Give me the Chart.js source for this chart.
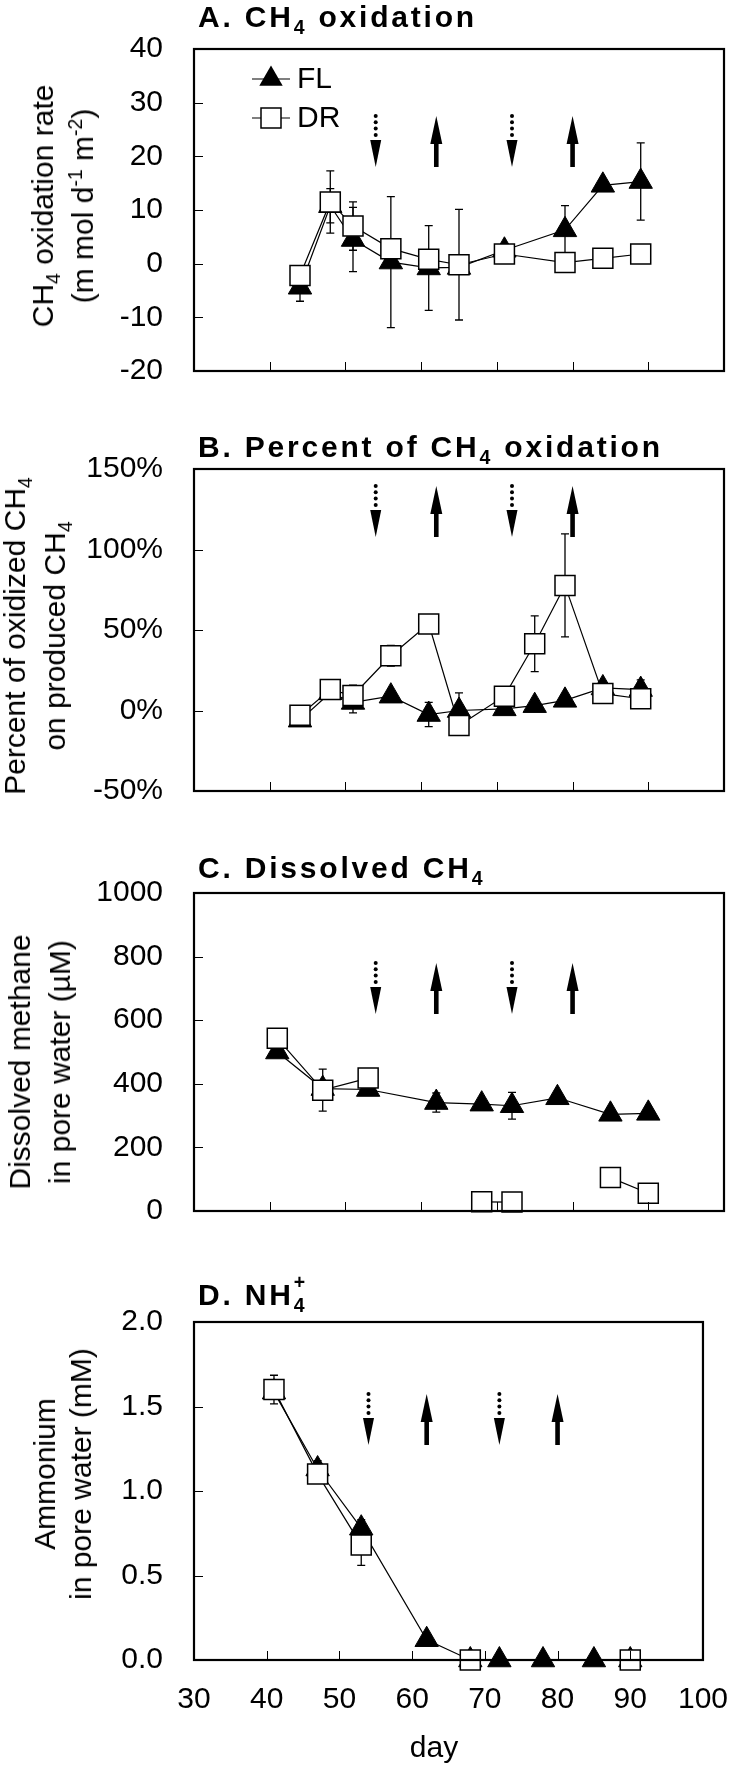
<!DOCTYPE html>
<html>
<head>
<meta charset="utf-8">
<script src="https://cdn.jsdelivr.net/npm/chart.js@4.4.1/dist/chart.umd.min.js"></script>
<style>
  body { margin: 0; background: #fff; }
  #wrap { position: relative; width: 750px; height: 1766px; overflow: hidden;
          font-family: "Liberation Sans", Arial, sans-serif; color: #000; }
  canvas { position: absolute; left: 0; }
  .ttl { position: absolute; left: 198px; font-weight: bold; font-size: 30px; line-height: 30px;
         letter-spacing: 2.8px; white-space: nowrap; }
  .yt { position: absolute; font-size: 30px; line-height: 40px; text-align: center; white-space: nowrap;
        transform: translate(-50%, -50%) rotate(-90deg); }
  sub, sup { font-size: 65%; line-height: 0; }
  .st { position: relative; display: inline-block; }
  .st sup { position: absolute; left: 0; top: 0.1em; }
  #day { position: absolute; left: 434px; top: 1747px; font-size: 30px; line-height: 30px;
         transform: translate(-50%, -50%); }
</style>
</head>
<body>
<div id="wrap">
  <canvas id="cA" width="750" height="420" style="top:0px"></canvas>
  <canvas id="cB" width="750" height="420" style="top:420px"></canvas>
  <canvas id="cC" width="750" height="420" style="top:840px"></canvas>
  <canvas id="cD" width="750" height="506" style="top:1260px"></canvas>

  <div class="ttl" style="top:2px">A. CH<sub>4</sub> oxidation</div>
  <div class="ttl" style="top:432px">B. Percent of CH<sub>4</sub> oxidation</div>
  <div class="ttl" style="top:853px">C. Dissolved CH<sub>4</sub></div>
  <div class="ttl" style="top:1280px">D. NH<span class="st"><sub>4</sub><sup>+</sup></span></div>

  <div class="yt" style="left:63px;top:206px">CH<sub>4</sub> oxidation rate<br>(m mol d<sup>-1</sup> m<sup>-2</sup>)</div>
  <div class="yt" style="left:35px;top:636px">Percent of oxidized CH<sub>4</sub><br>on produced CH<sub>4</sub></div>
  <div class="yt" style="left:40px;top:1062px">Dissolved methane<br>in pore water (µM)</div>
  <div class="yt" style="left:63px;top:1474px;line-height:36px">Ammonium<br>in pore water (mM)</div>
  <div id="day">day</div>
</div>

<script>
// shared x axis
const xTicks = [30, 40, 50, 60, 70, 80, 90, 100];

// flooding / draining events (day, direction)
const arrowDays = [54, 62, 72, 80];
const arrowKinds = ['down', 'up', 'down', 'up'];

// A. CH4 oxidation rate
const daysA = [44, 48, 51, 56, 61, 65, 71, 79, 84, 89];
const flA = [-4.4, 10.8, 4.5, 0.3, -0.8, -0.7, 2.5, 6.3, 14.6, 15.3];
const flAErr = [2.6, 3.2, 6.0, 12.2, 7.9, 0, 1.0, 4.5, 0, 7.2];
const drA = [-2.2, 11.5, 7.0, 2.8, 0.8, -0.2, 1.8, 0.2, 1.0, 1.8];
const drAErr = [0, 5.8, 4.5, 0, 0, 10.3, 0, 0, 0, 0];
const yTicksA = [-20, -10, 0, 10, 20, 30, 40];

// B. percent of CH4 oxidation
const daysB = [44, 48, 51, 56, 61, 65, 71, 75, 79, 84, 89];
const flB = [-6, 11, 5, 8.9, -2.5, 0, 1, 3, 6.3, 14, 13];
const flBErr = [0, 0, 6.5, 0, 7.5, 10.9, 0, 0, 0, 0, 6];
const drB = [-3, 13, 9.3, 34, 53.8, -9.3, 8.9, 41.5, 77.7, 10.5, 7.3];
const drBErr = [0, 0, 6.5, 6.4, 0, 0, 0, 17.3, 32, 0, 0];
const yTicksB = [-50, 0, 50, 100, 150];

// C. dissolved CH4
const daysC = [41, 47, 53, 62, 68, 72, 78, 85, 90];
const flC = [500, 385, 382, 341, 336, 331, 356, 304, 307];
const flCErr = [0, 0, 0, 30, 0, 42, 0, 0, 0];
const drC = [543, 380, 418, null, 29, 28, null, 105, 56];
const drCErr = [0, 66, 0, 0, 0, 0, 0, 29, 0];
const yTicksC = [0, 200, 400, 600, 800, 1000];

// D. NH4+
const daysD = [41, 47, 53, 62, 68, 72, 78, 85, 90];
const flD = [1.585, 1.13, 0.78, 0.12, 0, 0, 0, 0, 0];
const flDErr = [0, 0.05, 0.05, 0, 0, 0, 0, 0, 0];
const drD = [1.60, 1.10, 0.68, null, 0, null, null, null, 0];
const drDErr = [0.085, 0.05, 0.12, 0, 0, 0, 0, 0, 0];
const yTicksD = [0, 0.5, 1.0, 1.5, 2.0];

Chart.defaults.font.family = "'Liberation Sans', Arial, sans-serif";
Chart.defaults.font.size = 30;
Chart.defaults.color = '#000';

const TRI_R = 13.5;

function drawMarker(ctx, style, x, y) {
  ctx.beginPath();
  if (style === 'triangle') {
    ctx.moveTo(x, y - TRI_R);
    ctx.lineTo(x + TRI_R * 0.866, y + TRI_R / 2);
    ctx.lineTo(x - TRI_R * 0.866, y + TRI_R / 2);
    ctx.closePath();
    ctx.fillStyle = '#000';
    ctx.fill();
  } else {
    ctx.rect(x - 10, y - 10, 20, 20);
    ctx.fillStyle = '#fff';
    ctx.fill();
    ctx.lineWidth = 1.5;
    ctx.strokeStyle = '#000';
    ctx.stroke();
  }
}

function drawArrow(ctx, px, top, kind) {
  const bot = top + 51;
  ctx.fillStyle = '#000';
  if (kind === 'down') {
    for (let k = 0; k < 4; k++) {
      ctx.beginPath();
      ctx.arc(px, top + k * 6.3, 2, 0, Math.PI * 2);
      ctx.fill();
    }
    ctx.beginPath();
    ctx.moveTo(px - 5.5, top + 24);
    ctx.lineTo(px + 5.5, top + 24);
    ctx.lineTo(px, bot);
    ctx.closePath();
    ctx.fill();
  } else {
    ctx.beginPath();
    ctx.moveTo(px, top);
    ctx.lineTo(px + 6, top + 28);
    ctx.lineTo(px - 6, top + 28);
    ctx.closePath();
    ctx.fill();
    ctx.fillRect(px - 2.3, top + 27, 4.6, bot - top - 27);
  }
}

const frame = {
  id: 'frame',
  beforeDatasetsDraw(chart) {
    // error bars behind the markers
    const ctx = chart.ctx, xs = chart.scales.x, ys = chart.scales.y;
    ctx.save();
    ctx.strokeStyle = '#000';
    ctx.lineWidth = 1.3;
    chart.data.datasets.forEach(ds => {
      ds.err.forEach((e, i) => {
        const p = ds.data[i];
        if (!e || p.y === null) return;
        const px = xs.getPixelForValue(p.x);
        const y1 = ys.getPixelForValue(p.y + e);
        const y2 = ys.getPixelForValue(p.y - e);
        ctx.beginPath();
        ctx.moveTo(px, y1); ctx.lineTo(px, y2);
        ctx.moveTo(px - 4, y1); ctx.lineTo(px + 4, y1);
        ctx.moveTo(px - 4, y2); ctx.lineTo(px + 4, y2);
        ctx.stroke();
      });
    });
    ctx.restore();
  },
  afterDraw(chart, args, opts) {
    const ctx = chart.ctx, a = chart.chartArea, xs = chart.scales.x, ys = chart.scales.y;
    ctx.save();
    // inward tick marks
    ctx.strokeStyle = '#000';
    ctx.lineWidth = 1;
    ctx.beginPath();
    xs.ticks.forEach(t => {
      const px = Math.round(xs.getPixelForValue(t.value)) + 0.5;
      ctx.moveTo(px, a.bottom); ctx.lineTo(px, a.bottom - 9);
    });
    ys.ticks.forEach(t => {
      const py = Math.round(ys.getPixelForValue(t.value)) + 0.5;
      ctx.moveTo(a.left, py); ctx.lineTo(a.left + 9, py);
    });
    ctx.stroke();
    // plot frame
    ctx.lineWidth = 2.2;
    ctx.strokeRect(a.left, a.top, a.right - a.left, a.bottom - a.top);
    // event arrows
    arrowDays.forEach((d, i) => drawArrow(ctx, xs.getPixelForValue(d), a.top + opts.arrowTop, arrowKinds[i]));
    // legend
    if (opts.legend) {
      const rows = [79, 118];
      chart.data.datasets.forEach((ds, i) => {
        const y = rows[i];
        ctx.strokeStyle = '#000';
        ctx.lineWidth = 1.2;
        ctx.beginPath();
        ctx.moveTo(252, y); ctx.lineTo(290, y);
        ctx.stroke();
        drawMarker(ctx, ds.pointStyle, 271, y);
        ctx.fillStyle = '#000';
        ctx.font = "30px 'Liberation Sans', Arial, sans-serif";
        ctx.textBaseline = 'middle';
        ctx.fillText(ds.label, 297, y + 1);
      });
    }
    ctx.restore();
  }
};

function series(label, days, vals, errs, style) {
  const tri = style === 'triangle';
  return {
    label,
    data: days.map((d, i) => ({ x: d, y: vals[i] })),
    err: errs,
    order: tri ? 2 : 1,          // DR squares drawn over FL triangles
    borderColor: '#000',
    borderWidth: 1.2,
    tension: 0,
    spanGaps: false,
    clip: false,
    pointStyle: style,
    pointRadius: tri ? TRI_R : 14.14,
    pointBackgroundColor: tri ? '#000' : '#fff',
    pointBorderColor: '#000',
    pointBorderWidth: tri ? 1 : 1.5
  };
}

function panel(id, o) {
  return new Chart(document.getElementById(id), {
    type: 'line',
    data: {
      datasets: [
        series('FL', o.days, o.fl, o.flErr, 'triangle'),
        series('DR', o.days, o.dr, o.drErr, 'rect')
      ]
    },
    options: {
      responsive: false,
      animation: false,
      events: [],
      layout: { padding: { top: o.top, right: 26, left: 0, bottom: 0 } },
      plugins: {
        legend: { display: false },
        tooltip: { enabled: false },
        frame: { arrowTop: o.arrowTop, legend: !!o.legend }
      },
      scales: {
        x: {
          type: 'linear',
          min: xTicks[0],
          max: xTicks[xTicks.length - 1],
          grid: { display: false, drawTicks: false },
          border: { display: false },
          ticks: { display: !!o.xLabels, stepSize: 10, padding: 22, maxRotation: 0, autoSkip: false },
          afterFit: s => { s.height = o.xh; }
        },
        y: {
          type: 'linear',
          min: o.yTicks[0],
          max: o.yTicks[o.yTicks.length - 1],
          grid: { display: false, drawTicks: false },
          border: { display: false },
          ticks: { stepSize: o.yTicks[1] - o.yTicks[0], padding: 31, callback: o.fmt },
          afterFit: s => { s.width = 194; }
        }
      }
    },
    plugins: [frame]
  });
}

panel('cA', { days: daysA, fl: flA, flErr: flAErr, dr: drA, drErr: drAErr, yTicks: yTicksA,
  top: 38, xh: 47, arrowTop: 67, legend: true, fmt: v => v });
panel('cB', { days: daysB, fl: flB, flErr: flBErr, dr: drB, drErr: drBErr, yTicks: yTicksB,
  top: 48, xh: 34, arrowTop: 17, fmt: v => v + '%' });
panel('cC', { days: daysC, fl: flC, flErr: flCErr, dr: drC, drErr: drCErr, yTicks: yTicksC,
  top: 53, xh: 28, arrowTop: 70, fmt: v => v });
panel('cD', { days: daysD, fl: flD, flErr: flDErr, dr: drD, drErr: drDErr, yTicks: yTicksD,
  top: 62, xh: 106, arrowTop: 72, xLabels: true, fmt: v => v.toFixed(1) });
</script>
</body>
</html>
